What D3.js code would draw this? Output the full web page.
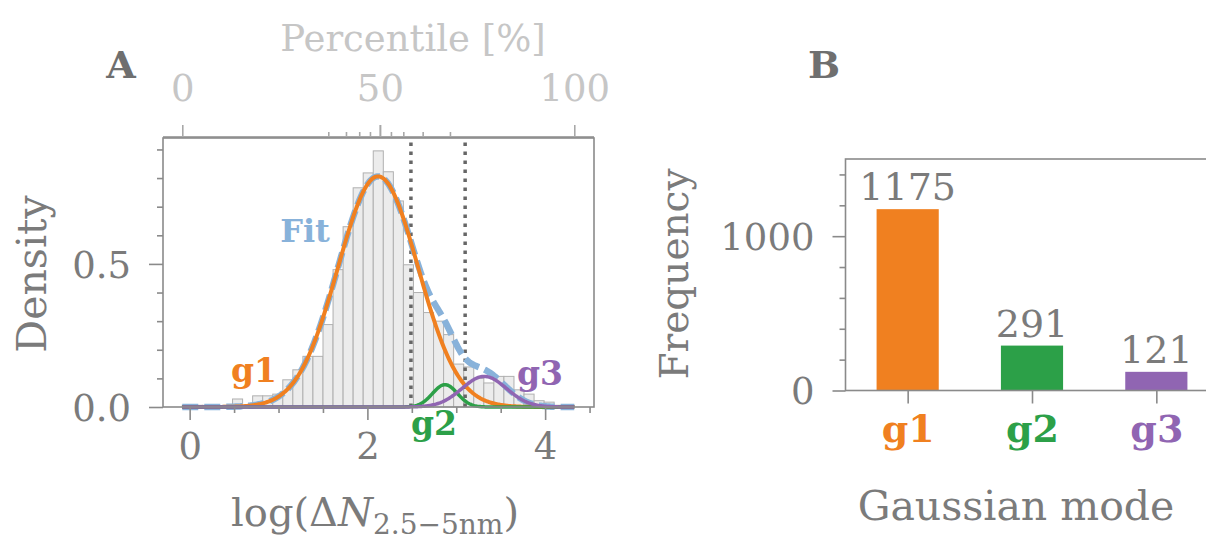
<!DOCTYPE html>
<html><head><meta charset="utf-8">
<script src="https://cdn.jsdelivr.net/npm/d3@7"></script>
<style>
html,body{margin:0;padding:0;background:#fff;}
svg{display:block;}
text{font-family:"DejaVu Serif","Liberation Serif",serif;}
</style></head>
<body>
<svg id="chart" width="1206" height="542"></svg>
<script>
// ---------- DATA ----------
// Panel A: histogram of log(ΔN) (density), 39 equal bins over the data range
const histStart = -0.083;
const histEnd = 4.328;
const histDensity = [0.006,0.006,0.006,0.0,0.006,0.028,0.006,0.039,0.039,0.045,
  0.095,0.13,0.177,0.177,0.288,0.48,0.63,0.766,0.818,0.895,
  0.822,0.72,0.497,0.40,0.33,0.30,0.253,0.15,0.14,0.10,
  0.084,0.107,0.107,0.06,0.045,0.022,0.017,0.006,0.006];
// Gaussian mixture components
const modeNames = ["g1","g2","g3"];
const modeMeans = [2.12, 2.873, 3.315];
const modeSigmas = [0.45, 0.14, 0.25];
const modeWeights = [0.909, 0.0274, 0.067];
// vertical dotted thresholds
const thresholds = [2.49, 3.10];
// top percentile axis: data positions of percentiles 0,10,...,100
const percentiles = [0,10,20,30,40,50,60,70,80,90,100];
const percentilePos = [-0.083,1.56,1.759,1.908,2.029,2.141,2.265,2.404,2.622,2.929,4.328];
const percentileLabeled = [0,50,100];
// axis ticks
const xMajorA = [0,2,4];
const xMinorA = [0.5,1,1.5,2.5,3,3.5,4.5];
const yMajorA = [0,0.5];
const yMinorA = [0.1,0.2,0.3,0.4,0.6,0.7,0.8,0.9];
// Panel B: frequency per Gaussian mode
const modeCounts = [1175, 291, 121];
const yMajorB = [0,1000];
const yMinorB = [200,400,600,800,1200,1400];

const modeColors = ["#f08020","#2ca048","#9065b2"];
const fitColor = "#88b2da";
const textGray = "#7b7b7b";
const axisGray = "#8a8a8a";
const lightGray = "#c6c6c6";
const FONT = "DejaVu Serif, Liberation Serif, serif";

// ---------- DRAW ----------
const svg = d3.select("#chart");
svg.append("rect").attr("width",1206).attr("height",542).attr("fill","#fff");

// ===== Panel A =====
const A = {l:163, r:594, t:138, b:407};
const xA = d3.scaleLinear().domain([-0.3,4.55]).range([A.l,A.r]);
const yA = d3.scaleLinear().domain([0,0.94]).range([A.b,A.t]);
const gA = svg.append("g");

// histogram
const nb = histDensity.length;
const bw = (histEnd-histStart)/nb;
const bins = histDensity.map((d,i)=>({x0:histStart+i*bw, x1:histStart+(i+1)*bw, d}));
gA.append("g").selectAll("rect").data(bins).join("rect")
  .attr("x",d=>xA(d.x0)).attr("width",d=>xA(d.x1)-xA(d.x0))
  .attr("y",d=>yA(d.d)).attr("height",d=>yA(0)-yA(d.d))
  .attr("fill","#ececec").attr("stroke","#b0b0b0").attr("stroke-width",1);

// curves
const gauss = (x,m,s,w)=> w/(s*Math.sqrt(2*Math.PI))*Math.exp(-0.5*((x-m)/s)**2);
const xs = d3.range(0,401).map(i=>histStart+(histEnd-histStart)*i/400);
const line = d3.line().x(d=>xA(d[0])).y(d=>yA(d[1]));
const fitPts = xs.map(x=>[x, d3.sum(modeMeans.map((m,k)=>gauss(x,m,modeSigmas[k],modeWeights[k])))]);

// threshold dotted lines
gA.append("g").selectAll("line").data(thresholds).join("line")
  .attr("x1",d=>xA(d)).attr("x2",d=>xA(d)).attr("y1",A.b).attr("y2",A.t+4)
  .attr("stroke","#666").attr("stroke-width",3.5).attr("stroke-dasharray","3.5,5.5");

gA.append("path").attr("d",line(fitPts)).attr("fill","none")
  .attr("stroke",fitColor).attr("stroke-width",6.5).attr("stroke-dasharray","16,6");
modeMeans.forEach((m,k)=>{
  const pts = xs.map(x=>[x,gauss(x,m,modeSigmas[k],modeWeights[k])]);
  gA.append("path").attr("d",line(pts)).attr("fill","none")
    .attr("stroke",modeColors[k]).attr("stroke-width",k===0?4:3.5);
});

// frame
gA.append("rect").attr("x",A.l).attr("y",A.t).attr("width",A.r-A.l).attr("height",A.b-A.t)
  .attr("fill","none").attr("stroke",axisGray).attr("stroke-width",1.6);

// axes
function styleAxis(g, color, fs){
  g.attr("font-family",FONT);
  g.select(".domain").remove();
  g.selectAll("line").attr("stroke",axisGray).attr("stroke-width",1.6);
  g.selectAll("text").attr("fill",color||textGray).attr("font-size",fs||37).attr("font-family",FONT);
}
let ax;
ax = gA.append("g").attr("transform",`translate(0,${A.b})`)
  .call(d3.axisBottom(xA).tickValues(xMajorA).tickSize(13).tickPadding(13).tickFormat(d3.format("d")));
styleAxis(ax);
ax = gA.append("g").attr("transform",`translate(0,${A.b})`)
  .call(d3.axisBottom(xA).tickValues(xMinorA).tickSize(6).tickFormat(""));
styleAxis(ax);
ax = gA.append("g").attr("transform",`translate(${A.l},0)`)
  .call(d3.axisLeft(yA).tickValues(yMajorA).tickSize(14).tickPadding(18).tickFormat(d3.format(".1f")));
styleAxis(ax);
ax.selectAll("text").attr("dy","0.36em");
ax = gA.append("g").attr("transform",`translate(${A.l},0)`)
  .call(d3.axisLeft(yA).tickValues(yMinorA).tickSize(6).tickFormat(""));
styleAxis(ax);

// top percentile axis
const topY = 137;
const pMap = new Map(percentiles.map((p,i)=>[p,percentilePos[i]]));
gA.append("line").attr("x1",A.l).attr("x2",A.r).attr("y1",topY).attr("y2",topY).attr("stroke",axisGray).attr("stroke-width",1.6);
ax = gA.append("g").attr("transform",`translate(0,${topY})`)
  .call(d3.axisTop(xA).tickValues(percentileLabeled.map(p=>pMap.get(p))).tickSize(12).tickPadding(24)
    .tickFormat((d,i)=>percentileLabeled[i]));
styleAxis(ax, lightGray);
ax.selectAll("line").attr("stroke","#a8a8a8");
ax = gA.append("g").attr("transform",`translate(0,${topY})`)
  .call(d3.axisTop(xA).tickValues(percentiles.filter(p=>!percentileLabeled.includes(p)).map(p=>pMap.get(p))).tickSize(5).tickFormat(""));
styleAxis(ax);
ax.selectAll("line").attr("stroke","#a8a8a8");
ax = gA.append("g").attr("transform",`translate(0,${topY})`)
  .call(d3.axisTop(xA).tickValues([pMap.get(50)]).tickSize(12).tickFormat(""));
styleAxis(ax);
ax.selectAll("line").attr("stroke","#a8a8a8");

gA.append("text").attr("x",413).attr("y",51).attr("text-anchor","middle")
  .attr("fill",lightGray).attr("font-size",37).text("Percentile [%]");

// axis titles
gA.append("text").attr("transform","translate(46,274) rotate(-90)").attr("text-anchor","middle")
  .attr("fill",textGray).attr("font-size",41).text("Density");
const xl = gA.append("text").attr("x",375).attr("y",526).attr("text-anchor","middle")
  .attr("fill",textGray).attr("font-size",40);
xl.append("tspan").text("log(Δ");
xl.append("tspan").attr("font-style","italic").text("N");
xl.append("tspan").attr("font-size",28).attr("dy",8).text("2.5−5nm");
xl.append("tspan").attr("dy",-8).text(")");

// labels in plot
const lab = (x,y,t,c,fs)=>gA.append("text").attr("x",x).attr("y",y).attr("fill",c)
  .attr("font-size",fs||33).attr("font-weight","bold").attr("text-anchor","middle").text(t);
lab(305,242,"Fit",fitColor,32);
lab(254,382,modeNames[0],modeColors[0]);
lab(434,435,modeNames[1],modeColors[1]);
lab(540,385,modeNames[2],modeColors[2]);

svg.append("text").attr("x",121).attr("y",78).attr("text-anchor","middle").attr("fill","#6f6f6f")
  .attr("font-size",38).attr("font-weight","bold").text("A");

// ===== Panel B =====
const B = {l:845.5, r:1218.5, t:159, b:390.5};
const xB = d3.scaleLinear().domain([-0.5,2.5]).range([B.l,B.r]);
const yB = d3.scaleLinear().domain([0,1500]).range([B.b,B.t]);
const gB = svg.append("g");
gB.selectAll("rect.bar").data(modeCounts).join("rect").attr("class","bar")
  .attr("x",(d,i)=>xB(i-0.25)).attr("width",xB(0.25)-xB(-0.25))
  .attr("y",d=>yB(d)).attr("height",d=>yB(0)-yB(d))
  .attr("fill",(d,i)=>modeColors[i]);
gB.selectAll("text.val").data(modeCounts).join("text").attr("class","val")
  .attr("x",(d,i)=>xB(i)).attr("y",d=>yB(d)-9).attr("text-anchor","middle")
  .attr("fill",textGray).attr("font-size",38).text(d=>d);
gB.append("rect").attr("x",B.l).attr("y",B.t).attr("width",B.r-B.l).attr("height",B.b-B.t)
  .attr("fill","none").attr("stroke",axisGray).attr("stroke-width",1.6);
ax = gB.append("g").attr("transform",`translate(${B.l},0)`)
  .call(d3.axisLeft(yB).tickValues(yMajorB).tickSize(13).tickPadding(18).tickFormat(d3.format("d")));
styleAxis(ax);
ax.selectAll("text").attr("dy","0.36em");
ax = gB.append("g").attr("transform",`translate(${B.l},0)`)
  .call(d3.axisLeft(yB).tickValues(yMinorB).tickSize(6).tickFormat(""));
styleAxis(ax);
ax = gB.append("g").attr("transform",`translate(0,${B.b})`)
  .call(d3.axisBottom(xB).tickValues([0,1,2]).tickSize(13).tickPadding(12).tickFormat((d,i)=>modeNames[i]));
styleAxis(ax);
ax.selectAll("text").attr("font-weight","bold").attr("font-size",38).attr("fill",(d,i)=>modeColors[i]);

gB.append("text").attr("transform","translate(688,274) rotate(-90)").attr("text-anchor","middle")
  .attr("fill",textGray).attr("font-size",39).text("Frequency");
gB.append("text").attr("x",1016).attr("y",520).attr("text-anchor","middle")
  .attr("fill",textGray).attr("font-size",41).text("Gaussian mode");
svg.append("text").attr("x",824).attr("y",78).attr("text-anchor","middle").attr("fill","#6f6f6f")
  .attr("font-size",38).attr("font-weight","bold").text("B");
</script>
</body></html>
